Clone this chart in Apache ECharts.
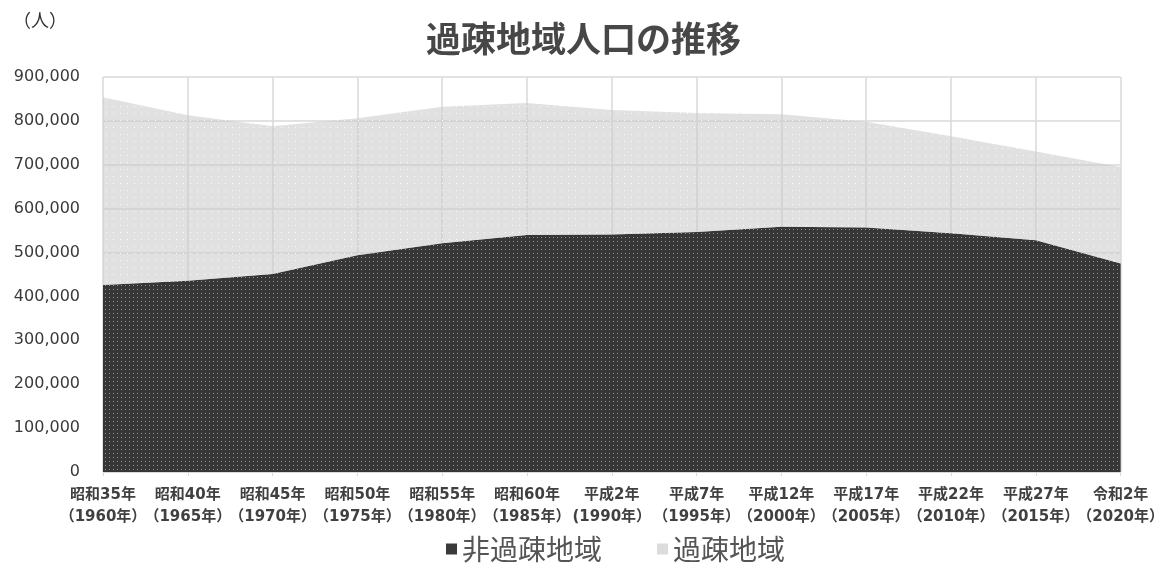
<!DOCTYPE html>
<html lang="ja">
<head>
<meta charset="utf-8">
<title>過疎地域人口の推移</title>
<script src="https://cdn.jsdelivr.net/npm/echarts@6/dist/echarts.min.js"></script>
<style>
  html, body { margin: 0; padding: 0; background: #fff; }
  #chart { width: 1167px; height: 572px; }
</style>
</head>
<body>
<div id="chart"></div>
<script>
// Census years: era name (first line) and western year (second line)
const eraLabels = ['昭和35年', '昭和40年', '昭和45年', '昭和50年', '昭和55年', '昭和60年',
  '平成2年', '平成7年', '平成12年', '平成17年', '平成22年', '平成27年', '令和2年'];
const yearLabels = ['（1960年）', '（1965年）', '（1970年）', '（1975年）', '（1980年）', '（1985年）',
  '(1990年）', '（1995年）', '（2000年）', '（2005年）', '（2010年）', '（2015年）', '（2020年）'];

// Population (persons)
const nonDepopulated = [426000, 436000, 451000, 494000, 521000, 540000, 541000,
  547000, 559000, 557000, 544000, 528000, 475000];
const depopulated = [428000, 377000, 337000, 312000, 311000, 301000, 284000,
  271000, 256000, 241000, 221000, 202000, 220000];

const yMin = 0, yMax = 900000, yStep = 100000;

const categories = eraLabels.map((e, i) => e + '\n' + yearLabels[i]);

// Dotted fill patterns for the two areas
function dotPattern(size, bg, dot, dotSize) {
  const c = document.createElement('canvas');
  c.width = size; c.height = size;
  const g = c.getContext('2d');
  g.fillStyle = bg;
  g.fillRect(0, 0, size, size);
  g.fillStyle = dot;
  g.fillRect(1, 1, dotSize, dotSize);
  return { image: c, repeat: 'repeat' };
}
const darkFill = dotPattern(4, '#363636', '#959595', 1);
const lightFill = dotPattern(7, 'rgba(205,205,205,0.6)', 'rgba(255,255,255,0.9)', 1);

const chart = echarts.init(document.getElementById('chart'));
chart.setOption({
  animation: false,
  backgroundColor: '#ffffff',
  title: {
    text: '過疎地域人口の推移',
    left: 'center',
    top: 16,
    textStyle: {
      fontFamily: 'Noto Sans CJK JP',
      fontSize: 35,
      fontWeight: 'bold',
      color: '#474747'
    }
  },
  graphic: [{
    type: 'text',
    left: 13,
    top: 11,
    style: {
      text: '（人）',
      fontFamily: 'Noto Sans CJK JP',
      fontSize: 18,
      fill: '#333333'
    }
  }],
  legend: {
    top: 530,
    left: 441,
    icon: 'rect',
    itemWidth: 11,
    itemHeight: 11,
    itemGap: 55,
    textStyle: {
      fontFamily: 'Noto Sans CJK JP',
      fontSize: 28,
      color: '#555555'
    },
    data: ['非過疎地域', '過疎地域']
  },
  grid: {
    left: 103,
    right: 40,
    top: 77,
    bottom: 100,
    containLabel: false
  },
  xAxis: {
    type: 'category',
    boundaryGap: false,
    data: categories,
    axisLine: { lineStyle: { color: '#d9d9d9', width: 1 } },
    axisTick: { show: true, length: 4, lineStyle: { color: '#d9d9d9' } },
    splitLine: { show: true, lineStyle: { color: '#d9d9d9', width: 1.5 } },
    axisLabel: {
      interval: 0,
      margin: 12,
      fontFamily: 'DejaVu Sans, Noto Sans CJK JP',
      fontSize: 15,
      fontWeight: 'bold',
      lineHeight: 22,
      color: '#404040'
    }
  },
  yAxis: {
    type: 'value',
    min: yMin,
    max: yMax,
    interval: yStep,
    axisLine: { show: false },
    axisTick: { show: false },
    splitLine: { show: true, lineStyle: { color: '#d9d9d9', width: 1.5 } },
    axisLabel: {
      margin: 23,
      fontFamily: 'DejaVu Sans',
      fontSize: 16,
      color: '#3a3a3a',
      formatter: v => v.toLocaleString('en-US')
    }
  },
  series: [
    {
      name: '非過疎地域',
      type: 'line',
      stack: 'total',
      data: nonDepopulated,
      symbol: 'none',
      lineStyle: { width: 0, opacity: 0 },
      itemStyle: { color: '#3a3a3a' },
      areaStyle: { color: darkFill, opacity: 1 },
      z: 2
    },
    {
      name: '過疎地域',
      type: 'line',
      stack: 'total',
      data: depopulated,
      symbol: 'none',
      lineStyle: { width: 0, opacity: 0 },
      itemStyle: { color: '#dcdcdc' },
      areaStyle: { color: lightFill, opacity: 1 },
      z: 2
    }
  ]
});
</script>
</body>
</html>
